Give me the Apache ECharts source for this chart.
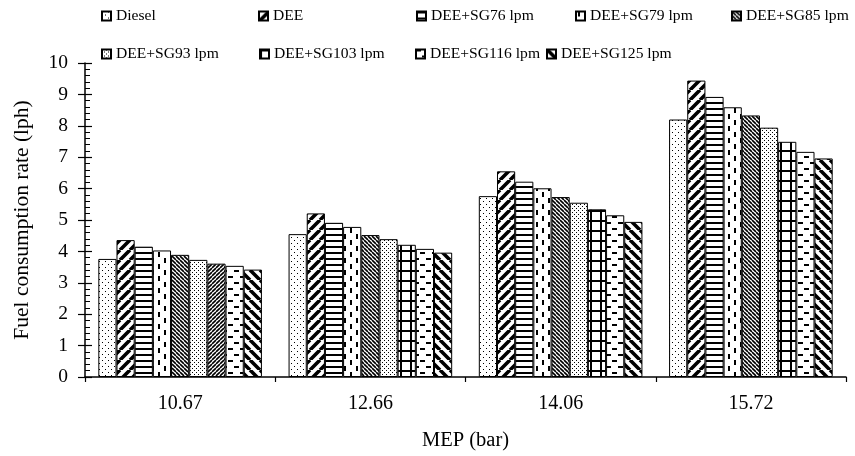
<!DOCTYPE html>
<html>
<head>
<meta charset="utf-8">
<script src="https://cdn.jsdelivr.net/npm/echarts@6/dist/echarts.min.js"></script>
<style>
  html, body { margin: 0; padding: 0; background: #fff; }
  #chart { width: 855px; height: 456px; }
</style>
</head>
<body>
<div id="chart"></div>
<script>
// MEP (bar) load points
const categories = ['10.67', '12.66', '14.06', '15.72'];

// Fuel consumption rate (lph) per fuel mode
const diesel = [3.76, 4.55, 5.76, 8.20];
const dee    = [4.36, 5.21, 6.55, 9.44];
const sg76   = [4.15, 4.91, 6.22, 8.92];
const sg79   = [4.03, 4.78, 6.01, 8.59];
const sg85   = [3.89, 4.52, 5.73, 8.33];
const sg93   = [3.73, 4.39, 5.55, 7.94];
const sg103  = [3.61, 4.21, 5.34, 7.49];
const sg116  = [3.54, 4.08, 5.15, 7.17];
const sg125  = [3.42, 3.96, 4.94, 6.96];

const seriesNames = ['Diesel', 'DEE', 'DEE+SG76 lpm', 'DEE+SG79 lpm', 'DEE+SG85 lpm',
  'DEE+SG93 lpm', 'DEE+SG103 lpm', 'DEE+SG116 lpm', 'DEE+SG125 lpm'];
const seriesValues = [diesel, dee, sg76, sg79, sg85, sg93, sg103, sg116, sg125];

// ---- black & white fill patterns -------------------------------------
function tile(w, h, draw) {
  const c = document.createElement('canvas');
  c.width = w; c.height = h;
  const g = c.getContext('2d');
  g.fillStyle = '#fff';
  g.fillRect(0, 0, w, h);
  g.fillStyle = '#000';
  g.strokeStyle = '#000';
  draw(g, w, h);
  return { image: c, repeat: 'repeat' };
}
function diag(g, w, h, lw, up) {
  g.lineWidth = lw;
  g.beginPath();
  for (let k = -2; k <= 2; k++) {
    if (up) { g.moveTo(k * w, h); g.lineTo(k * w + w, 0); }
    else    { g.moveTo(k * w, 0); g.lineTo(k * w + w, h); }
  }
  g.stroke();
}
const patterns = {
  dotsSparse: tile(6, 6, g => { g.fillRect(0, 0, 1, 1); g.fillRect(3, 3, 1, 1); }),
  wideUp:     tile(10, 10, g => diag(g, 10, 10, 3.6, true)),
  horiz:      tile(6, 6, g => g.fillRect(0, 0, 6, 2)),
  dashVert:   tile(12, 12, g => { g.fillRect(2, 0, 2, 5); g.fillRect(8, 6, 2, 5); }),
  darkDown:   tile(4, 4, g => diag(g, 4, 4, 1.6, false)),
  dots:       tile(4, 4, g => { g.fillRect(0, 0, 1, 1); g.fillRect(2, 2, 1, 1); }),
  grid:       tile(10, 10, g => { g.fillRect(0, 0, 10, 2); g.fillRect(0, 0, 2, 10); }),
  darkUp:     tile(4, 4, g => diag(g, 4, 4, 1.6, true)),
  dashHoriz:  tile(12, 12, g => { g.fillRect(0, 0, 5, 2); g.fillRect(6, 6, 5, 2); }),
  wideDown:   tile(10, 10, g => diag(g, 10, 10, 3.6, false))
};
const fills = [patterns.dotsSparse, patterns.wideUp, patterns.horiz, patterns.dashVert,
  patterns.darkDown, patterns.dots, patterns.grid, patterns.dashHoriz, patterns.wideDown];

// ---- legend placement (two rows) ------------------------------------
const legendPos = [
  [101, 8], [258, 8], [416, 8], [575, 8], [731, 8],
  [101, 46], [259, 46], [415, 46], [546, 46]
];
const FONT = '"Liberation Serif", "Times New Roman", serif';

const legends = seriesNames.map((name, i) => ({
  data: [name],
  left: legendPos[i][0],
  top: legendPos[i][1],
  padding: 0,
  itemWidth: 9,
  itemHeight: 9,
  icon: 'rect',
  selectedMode: false,
  textStyle: { fontFamily: FONT, fontSize: 15.6, color: '#000' }
}));

const series = seriesNames.map((name, i) => ({
  name: name,
  type: 'bar',
  barGap: '0%',
  barCategoryGap: '14%',
  data: seriesValues[i].map((v, j) => {
    // first SG103 bar carries a diagonal hatch
    if (i === 6 && j === 0) {
      return { value: v, itemStyle: { color: patterns.darkUp } };
    }
    return v;
  }),
  itemStyle: { color: fills[i], borderColor: '#000', borderWidth: 1 },
  emphasis: { disabled: true }
}));

const chart = echarts.init(document.getElementById('chart'), null, { renderer: 'canvas' });
chart.setOption({
  animation: false,
  backgroundColor: '#fff',
  legend: legends,
  grid: { left: 85, right: 9, top: 63, bottom: 76, containLabel: false },
  xAxis: {
    type: 'category',
    data: categories,
    name: 'MEP (bar)',
    nameLocation: 'middle',
    nameGap: 53,
    nameTextStyle: { fontFamily: FONT, fontSize: 20.5, color: '#000' },
    axisLine: { lineStyle: { color: '#000', width: 1.5 } },
    axisTick: { show: true, length: 5, lineStyle: { color: '#000', width: 1.2 } },
    axisLabel: { fontFamily: FONT, fontSize: 20, color: '#000', margin: 17 },
    splitLine: { show: false }
  },
  yAxis: [
    {
      type: 'value',
      min: 0, max: 10, interval: 1,
      name: 'Fuel consumption rate (lph)',
      nameLocation: 'middle',
      nameGap: 52,
      nameTextStyle: { fontFamily: FONT, fontSize: 21.5, color: '#000' },
      axisLine: { show: true, lineStyle: { color: '#000', width: 1.5 } },
      axisTick: { show: true, length: 7, lineStyle: { color: '#000', width: 1.2 } },
      axisLabel: { fontFamily: FONT, fontSize: 19.5, color: '#000', margin: 17 },
      splitLine: { show: false }
    },
    {
      type: 'value',
      position: 'left',
      min: 0, max: 10, interval: 1,
      axisLine: { show: false },
      axisTick: { show: true, inside: true, length: 7, lineStyle: { color: '#000', width: 1.2 } },
      minorTick: { show: true, splitNumber: 5, length: 5, lineStyle: { color: '#000', width: 1 } },
      axisLabel: { show: false },
      splitLine: { show: false }
    }
  ],
  series: series
});
</script>
</body>
</html>
